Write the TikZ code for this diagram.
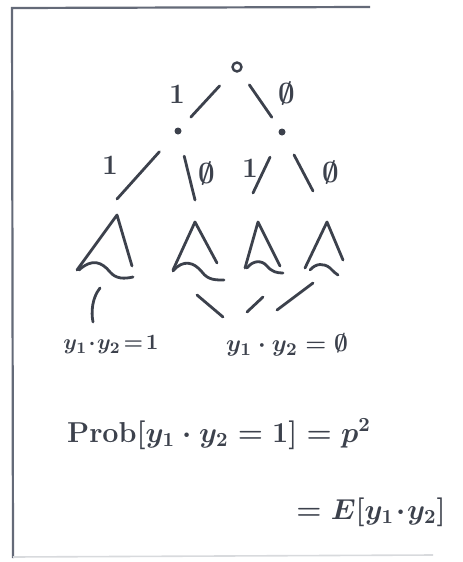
\documentclass[tikz,border=0pt]{standalone}
\usepackage{amssymb}
\usepackage{tikz}
\usetikzlibrary{positioning}
\definecolor{pencil}{HTML}{3C414C}
\definecolor{framegray}{HTML}{646A78}
\tikzset{
    stroke/.style={draw=pencil, line width=1.4pt, line cap=round, line join=round},
    branch/.style={stroke},
    rootdot/.style={circle, draw=pencil, line width=1.2pt, inner sep=0pt, minimum size=4.5pt},
    innerdot/.style={circle, fill=pencil, inner sep=0pt, minimum size=3.5pt},
    bitlabel/.style={text=pencil, font=\fontsize{14}{14}\selectfont\bfseries\boldmath, inner sep=0pt},
    outcome/.style={text=pencil, font=\fontsize{13}{13}\selectfont\boldmath, inner sep=1pt},
    formula/.style={text=pencil, font=\fontsize{14}{14}\selectfont\boldmath, inner sep=1pt}
}

\begin{document}
\begin{tikzpicture}[x=0.5pt, y=-0.5pt]
        \useasboundingbox (0,0) rectangle (462,562);
        % page frame
        \draw[framegray, line width=1.1pt] (370,7) -- (12,8) -- (13,558);
        \draw[framegray!25, line width=0.8pt] (13,557) -- (433,555);

        % tree nodes
        \node[rootdot] (root) at (237,67) {};
        \node[innerdot] (l) at (178,131) {};
        \node[innerdot] (r) at (282,132) {};
        \coordinate (top11) at (117,199);
        \coordinate (top10) at (195,200);
        \coordinate (top01) at (253,193);
        \coordinate (top00) at (313,191);

        % branches
        \draw[branch, shorten <=10pt, shorten >=7.5pt] (root) -- (l);
        \draw[branch, shorten <=8pt, shorten >=7pt] (root) -- (r);
        \draw[branch, shorten <=12pt] (l) -- (top11);
        \draw[branch, shorten <=11pt] (l) -- (top10);
        \draw[branch, shorten <=12pt] (r) -- (top01);
        \draw[branch, shorten <=11pt] (r) -- (top00);

        % branch labels
        \node[bitlabel] (b1) at (177,94) {1};
        \node[bitlabel] (b0) at (287,93) {$\emptyset$};
        \node[bitlabel] (b11) at (110,165) {1};
        \node[bitlabel] (b10) at (207,173) {$\emptyset$};
        \node[bitlabel] (b01) at (250,168) {1};
        \node[bitlabel] (b00) at (331,172) {$\emptyset$};

        % subtrees
        \draw[stroke] (77,270) -- (117,215) -- (132,266);
        \draw[stroke] (79,270) .. controls (92,258) and (102,262) .. (110,272)
            .. controls (116,279) and (124,279) .. (133,277);
        \draw[stroke] (173,270) -- (195,222) -- (217,263);
        \draw[stroke] (173,271) .. controls (183,259) and (194,262) .. (202,272)
            .. controls (208,280) and (215,280) .. (224,280);
        \draw[stroke] (245,268) -- (258,222) -- (280,266);
        \draw[stroke] (247,268) .. controls (253,260) and (262,260) .. (267,266)
            .. controls (272,272) and (277,273) .. (283,273);
        \draw[stroke] (305,268) -- (327,222) -- (343,260);
        \draw[stroke] (310,270) .. controls (316,263) and (324,263) .. (330,268)
            .. controls (334,272) and (336,274) .. (338,275);

        % outcomes
        \node[outcome, font=\fontsize{11}{11}\selectfont\boldmath] (lab1) at (111,345) {$y_1\!\cdot\! y_2\!=\!1$};
        \node[outcome] (lab0) at (287,345) {$y_1\cdot y_2=\emptyset$};
        \coordinate (s11) at (100,288);
        \coordinate (s10) at (197,295);
        \coordinate (s01) at (263,297);
        \coordinate (s00) at (313,283);
        \coordinate (e11) at (93,322);
        \coordinate (e10) at (223,317);
        \coordinate (e01) at (247,312);
        \coordinate (e00) at (277,310);
        \draw[stroke] (s11) .. controls (92,298) and (91,312) .. (e11);
        \draw[stroke] (s10) -- (e10);
        \draw[stroke] (s01) -- (e01);
        \draw[stroke] (s00) -- (e00);

        % probability
        \node[formula] (prob) at (219,434) {$\mathrm{Prob}[y_1\cdot y_2=1]=p^2$};
        \node[formula, anchor=west] (expect) at (294,512) {$=E[y_1\!\cdot\! y_2]$};
      \end{tikzpicture}
\end{document}
